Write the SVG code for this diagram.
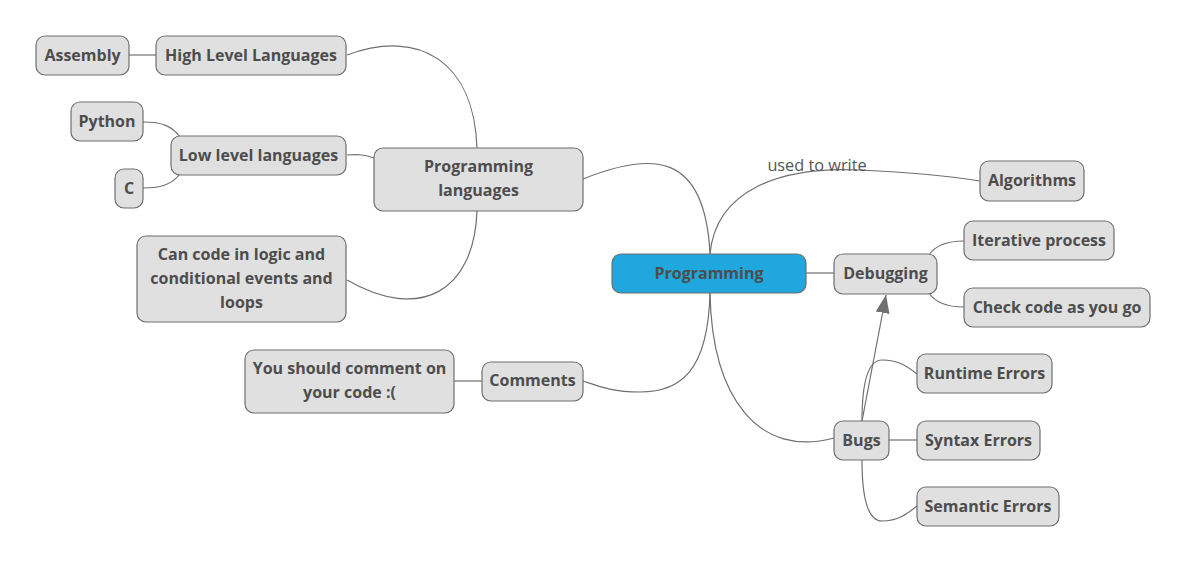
<svg xmlns="http://www.w3.org/2000/svg" width="1188" height="565" viewBox="0 0 1188 565">
<style>
.n rect{fill:#e0e0e0;stroke:#6f6f6f;stroke-width:1.2}
.n text{font-family:"Open Sans","Noto Sans","DejaVu Sans",sans-serif;font-weight:700;font-size:16px;fill:#4d4d4d;text-anchor:middle;dominant-baseline:central}
#programming rect{fill:#20a8de}
#programming text{fill:#4d4d4d}
.c path,.c line{fill:none;stroke:#6f6f6f;stroke-width:1.2}
.lbl{font-family:"Open Sans","Noto Sans",sans-serif;font-size:16.3px;fill:#555;text-anchor:middle}
</style>
<defs>
<marker id="ah" markerWidth="20" markerHeight="14" refX="18" refY="7" orient="auto" markerUnits="userSpaceOnUse" viewBox="0 0 20 14">
<path d="M0,0 L18,7 L0,14 z" fill="#6f6f6f"/>
</marker>
</defs>
<rect width="1188" height="565" fill="#fff"/>
<g class="c">
<path d="M583,179 C650,152 705,150 710,254"/>
<path d="M710,254 C716,190 780,166 860,170 C920,173 955,177 980,181"/>
<line x1="806" y1="273" x2="834" y2="273"/>
<path d="M710,293 C708,372 680,392 640,392 C612,392 598,386 583,381"/>
<path d="M710,293 C712,400 760,458 834,438"/>
<path d="M477,148 C474,62 420,28 347,55"/>
<path d="M374,158 C365,155 360,154 347,155"/>
<path d="M477,211 C474,292 420,322 347,280"/>
<line x1="129" y1="55" x2="156" y2="55"/>
<path d="M180,137 C172,126 162,122 143,122"/>
<path d="M180,174 C172,184 162,188 143,188"/>
<line x1="454" y1="381" x2="482" y2="381"/>
<path d="M929,255 C935,246 945,241 964,241"/>
<path d="M929,293 C935,302 945,307 964,307"/>
<path d="M862,421 C862,390 866,360 882,360 C898,360 907,366 917,374"/>
<line x1="889" y1="440" x2="917" y2="440"/>
<path d="M862,460 C862,492 866,521 882,521 C898,521 907,514 917,506"/>
<line x1="862" y1="421" x2="886" y2="295" marker-end="url(#ah)"/>
</g>
<text class="lbl" x="817" y="171">used to write</text>
<g class="n" id="assembly"><rect x="36" y="36" width="93" height="39" rx="9"/><text x="82.5" y="54.5">Assembly</text></g>
<g class="n" id="high"><rect x="156" y="36" width="190" height="39" rx="9"/><text x="251" y="54.5">High Level Languages</text></g>
<g class="n" id="python"><rect x="71" y="102" width="72" height="39" rx="9"/><text x="107" y="120.5">Python</text></g>
<g class="n" id="low"><rect x="171" y="136" width="175" height="39" rx="9"/><text x="258.5" y="154.5">Low level languages</text></g>
<g class="n" id="c"><rect x="115" y="169" width="28" height="39" rx="9"/><text x="129" y="187.5">C</text></g>
<g class="n" id="proglang"><rect x="374" y="148" width="209" height="63" rx="9"/><text x="478.5" y="165.5">Programming</text><text x="478.5" y="189.5">languages</text></g>
<g class="n" id="cancode"><rect x="137" y="236" width="209" height="86" rx="9"/><text x="241.5" y="253.5">Can code in logic and</text><text x="241.5" y="277.5">conditional events and</text><text x="241.5" y="301.5">loops</text></g>
<g class="n" id="should"><rect x="245" y="350" width="209" height="63" rx="9"/><text x="349.5" y="367.5">You should comment on</text><text x="349.5" y="391.5">your code :(</text></g>
<g class="n" id="comments"><rect x="482" y="362" width="101" height="39" rx="9"/><text x="532.5" y="380">Comments</text></g>
<g class="n" id="programming"><rect x="612" y="254" width="194" height="39" rx="9"/><text x="709" y="272.5">Programming</text></g>
<g class="n" id="debugging"><rect x="834" y="254" width="103" height="40" rx="9"/><text x="885.5" y="273">Debugging</text></g>
<g class="n" id="algorithms"><rect x="980" y="161" width="104" height="40" rx="9"/><text x="1032" y="180">Algorithms</text></g>
<g class="n" id="iterative"><rect x="964" y="221" width="150" height="39" rx="9"/><text x="1039" y="239.5">Iterative process</text></g>
<g class="n" id="check"><rect x="964" y="288" width="186" height="39" rx="9"/><text x="1057" y="306.5">Check code as you go</text></g>
<g class="n" id="runtime"><rect x="917" y="354" width="135" height="39" rx="9"/><text x="984.5" y="372.5">Runtime Errors</text></g>
<g class="n" id="bugs"><rect x="834" y="421" width="55" height="39" rx="9"/><text x="861.5" y="439.5">Bugs</text></g>
<g class="n" id="syntax"><rect x="917" y="421" width="123" height="39" rx="9"/><text x="978.5" y="439.5">Syntax Errors</text></g>
<g class="n" id="semantic"><rect x="917" y="487" width="142" height="39" rx="9"/><text x="988" y="505.5">Semantic Errors</text></g>
</svg>
